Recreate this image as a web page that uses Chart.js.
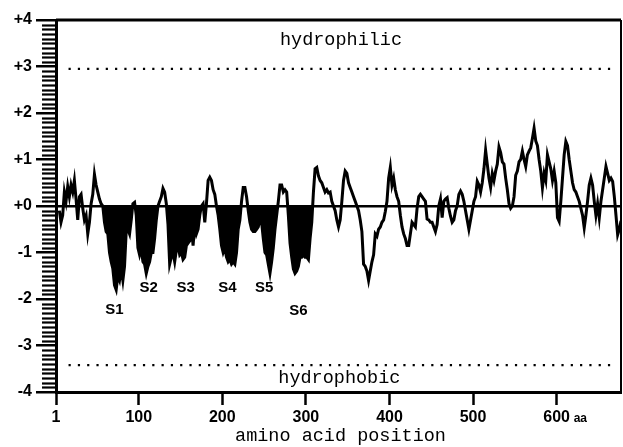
<!DOCTYPE html>
<html>
<head>
<meta charset="utf-8">
<script src="https://cdn.jsdelivr.net/npm/chart.js@4.4.0/dist/chart.umd.min.js"></script>
<style>
  html, body { margin: 0; padding: 0; background: #fff; }
</style>
</head>
<body>
<canvas id="hydro" width="623" height="447"></canvas>
<script>
// residue positions (aa) and hydropathy values
const positions = [
    5, 7, 9, 11, 13, 15, 17, 19, 21, 23, 25, 27, 29, 31, 33, 35, 37, 39, 41, 43,
    45, 47, 49, 51, 53, 55, 57, 59, 61, 63, 65, 67, 69, 71, 73, 75, 77, 79, 81, 83,
    85, 87, 89, 91, 93, 95, 97, 99, 101, 103, 105, 107, 109, 111, 113, 115, 117, 119, 121, 123,
    125, 127, 129, 131, 133, 135, 137, 139, 141, 143, 145, 147, 149, 151, 153, 155, 157, 159, 161, 163,
    165, 167, 169, 171, 173, 175, 177, 179, 181, 183, 185, 187, 189, 191, 193, 195, 197, 199, 201, 203,
    205, 207, 209, 211, 213, 215, 217, 219, 221, 223, 225, 227, 229, 231, 233, 235, 237, 239, 241, 243,
    245, 247, 249, 251, 253, 255, 257, 259, 261, 263, 265, 267, 269, 271, 273, 275, 277, 279, 281, 283,
    285, 287, 289, 291, 293, 295, 297, 299, 301, 303, 305, 307, 309, 311, 313, 315, 317, 319, 321, 323,
    325, 327, 329, 331, 333, 335, 337, 339, 341, 343, 345, 347, 349, 351, 353, 355, 357, 359, 361, 363,
    365, 367, 369, 371, 373, 375, 377, 379, 381, 383, 385, 387, 389, 391, 393, 395, 397, 399, 401, 403,
    405, 407, 409, 411, 413, 415, 417, 419, 421, 423, 425, 427, 429, 431, 433, 435, 437, 439, 441, 443,
    445, 447, 449, 451, 453, 455, 457, 459, 461, 463, 465, 467, 469, 471, 473, 475, 477, 479, 481, 483,
    485, 487, 489, 491, 493, 495, 497, 499, 501, 503, 505, 507, 509, 511, 513, 515, 517, 519, 521, 523,
    525, 527, 529, 531, 533, 535, 537, 539, 541, 543, 545, 547, 549, 551, 553, 555, 557, 559, 561, 563,
    565, 567, 569, 571, 573, 575, 577, 579, 581, 583, 585, 587, 589, 591, 593, 595, 597, 599, 601, 603,
    605, 607, 609, 611, 613, 615, 617, 619, 621, 623, 625, 627, 629, 631, 633, 635, 637, 639, 641, 643,
    645, 647, 649, 651, 653, 655, 657, 659, 661, 663, 665, 667, 669, 671, 673, 675, 677, 679
];

const hydropathy = [
    -0.1, -0.35, -0.2, 0.3, 0.1, 0.42, 0.2, 0.45, 0.3, 0.55, 0.15, -0.3, 0.2, 0.25, -0.05, -0.3, -0.2, -0.6, -0.35, 0.05,
    0.25, 0.68, 0.45, 0.3, 0.15, 0.05, 0.0, -0.35, -0.55, -0.6, -1.0, -1.2, -1.35, -1.7, -1.8, -1.5, -1.6, -1.35, -1.6, -1.3,
    -0.55, -0.5, -0.6, -0.3, 0.05, 0.08, -0.2, -0.9, -1.05, -0.9, -1.2, -1.25, -1.45, -1.3, -1.2, -1.0, -1.0, -0.7, -0.3, 0.0,
    0.1, 0.2, 0.38, 0.3, 0.05, -0.4, -1.25, -1.1, -1.0, -1.2, -0.95, -0.85, -1.05, -1.0, -1.15, -1.1, -0.85, -0.8, -0.75, -0.4,
    -0.85, -0.4, -0.6, -0.5, -0.2, 0.0, 0.05, -0.35, 0.05, 0.55, 0.62, 0.55, 0.35, 0.25, 0.0, -0.2, -0.5, -0.85, -1.0, -0.9,
    -1.1, -1.2, -1.15, -1.25, -1.2, -1.25, -1.0, -0.5, -0.3, 0.1, 0.4, 0.4, 0.2, -0.1, -0.35, -0.5, -0.55, -0.55, -0.5, -0.45,
    -0.3, -0.35, -0.7, -1.0, -1.05, -1.25, -1.45, -1.2, -0.9, -0.5, -0.2, 0.1, 0.45, 0.45, 0.3, 0.35, 0.3, -0.2, -0.8, -1.1,
    -1.35, -1.45, -1.4, -1.3, -1.1, -1.1, -1.05, -1.1, -1.1, -1.15, -0.7, -0.35, 0.3, 0.8, 0.83, 0.65, 0.55, 0.5, 0.4, 0.3,
    0.35, 0.28, 0.3, 0.1, 0.0, -0.1, -0.3, -0.45, -0.3, 0.1, 0.55, 0.75, 0.7, 0.5, 0.4, 0.3, 0.2, 0.1, 0.0, -0.1,
    -0.3, -0.55, -1.25, -1.3, -1.4, -1.6, -1.4, -1.2, -1.05, -0.6, -0.65, -0.5, -0.45, -0.35, -0.3, -0.12, 0.1, 0.6, 0.83, 0.45,
    0.6, 0.35, 0.2, 0.1, -0.2, -0.45, -0.6, -0.7, -0.85, -0.85, -0.6, -0.35, -0.4, -0.45, -0.05, 0.2, 0.25, 0.2, 0.15, 0.1,
    -0.28, -0.3, -0.35, -0.35, -0.45, -0.55, -0.4, 0.0, 0.15, -0.25, 0.1, 0.15, 0.18, -0.05, -0.22, -0.35, -0.3, -0.1, 0.0, 0.25,
    0.32, 0.25, 0.1, -0.1, -0.3, -0.5, -0.3, -0.1, 0.1, 0.2, 0.53, 0.45, 0.3, 0.5, 0.8, 1.2, 0.9, 0.6, 0.4, 0.7,
    0.55, 0.75, 0.9, 1.27, 1.15, 0.95, 0.9, 0.6, 0.35, 0.05, -0.05, 0.0, 0.2, 0.66, 0.75, 0.95, 1.0, 1.18, 1.0, 0.85,
    1.1, 1.18, 1.25, 1.45, 1.67, 1.4, 1.3, 1.0, 0.75, 0.39, 0.7, 0.55, 1.1, 0.95, 0.8, 0.55, 0.75, 0.5, -0.25, -0.33,
    0.1, 0.6, 1.1, 1.39, 1.3, 1.0, 0.75, 0.5, 0.35, 0.3, 0.2, 0.1, -0.05, -0.2, -0.47, -0.2, 0.1, 0.45, 0.6, 0.45,
    0.1, -0.2, 0.05, -0.25, 0.1, 0.35, 0.6, 0.85, 0.7, 0.55, 0.6, 0.53, 0.2, -0.2, -0.62, -0.5, -0.32, -0.35
];

// transmembrane stretch that is shaded black below zero
const tmStart = 57;
const tmEnd = 311;

// S1..S6 labels: position (aa) and level
const segmentLabels = ['S1', 'S2', 'S3', 'S4', 'S5', 'S6'];
const segmentPos = [71, 112, 156, 206, 250, 291];
const segmentLevel = [-2.24, -1.76, -1.76, -1.76, -1.76, -2.26];

const xTickValues = [1, 100, 200, 300, 400, 500, 600];
const dottedLevels = [2.95, -3.42];
const dottedRange = [16, 672];

const points = positions.map((x, i) => ({ x, y: hydropathy[i] }));
const tmPoints = points.filter(p => p.x >= tmStart && p.x <= tmEnd);

const MONO = "18.5px 'Liberation Mono', 'Courier New', monospace";

const frameAndText = {
    id: 'frameAndText',
    afterDraw(chart) {
        const { ctx, chartArea: a, scales } = chart;
        const xs = scales.x, ys = scales.y;
        ctx.save();
        ctx.strokeStyle = '#000';

        // top + right frame
        ctx.lineWidth = 3;
        ctx.beginPath();
        ctx.moveTo(a.left, a.top);
        ctx.lineTo(a.right, a.top);
        ctx.stroke();
        ctx.lineWidth = 2;
        ctx.beginPath();
        ctx.moveTo(a.right, a.top);
        ctx.lineTo(a.right, a.bottom);
        ctx.stroke();

        // minor ticks on the y axis, every 0.1
        ctx.lineWidth = 2.2;
        for (let k = -39; k <= 39; k++) {
            if (k % 10 === 0) continue;
            const y = Math.round(ys.getPixelForValue(k / 10)) + 0.5;
            ctx.beginPath();
            ctx.moveTo(a.left - 14, y);
            ctx.lineTo(a.left, y);
            ctx.stroke();
        }

        ctx.fillStyle = '#000';
        // segment labels
        ctx.font = "bold 15px 'Liberation Sans Narrow', 'Liberation Sans', Arial, sans-serif";
        ctx.textAlign = 'center';
        ctx.textBaseline = 'middle';
        segmentLabels.forEach((t, i) => {
            ctx.fillText(t, xs.getPixelForValue(segmentPos[i]), ys.getPixelForValue(segmentLevel[i]));
        });

        // region labels
        ctx.font = MONO;
        ctx.textBaseline = 'alphabetic';
        ctx.fillText('hydrophilic', xs.getPixelForValue(342), ys.getPixelForValue(3.46));
        ctx.fillText('hydrophobic', xs.getPixelForValue(340), ys.getPixelForValue(-3.8));

        // axis title
        ctx.fillText('amino acid position', (a.left + a.right) / 2 + 2, chart.height - 6);

        // unit after the last tick label
        ctx.font = "bold 12px 'Liberation Sans', Arial, sans-serif";
        ctx.textAlign = 'left';
        ctx.fillText('aa', xs.getPixelForValue(600) + 17, a.bottom + 30);
        ctx.restore();
    }
};

new Chart(document.getElementById('hydro'), {
    type: 'line',
    data: {
        datasets: [
            {
                data: points,
                borderColor: '#000',
                borderWidth: 3,
                pointRadius: 0,
                tension: 0,
                fill: false,
                order: 1
            },
            {
                data: tmPoints,
                borderWidth: 0,
                borderColor: 'rgba(0,0,0,0)',
                pointRadius: 0,
                tension: 0,
                fill: { target: { value: 0 }, above: 'rgba(0,0,0,0)', below: '#000' },
                order: 2
            },
            ...dottedLevels.map(v => ({
                data: dottedRange.map(x => ({ x, y: v })),
                borderColor: '#000',
                borderWidth: 2.2,
                borderDash: [2.2, 7.1],
                pointRadius: 0,
                fill: false,
                order: 3
            }))
        ]
    },
    options: {
        responsive: false,
        animation: false,
        layout: { padding: { top: 20, right: 2, left: 0, bottom: 0 } },
        plugins: {
            legend: { display: false },
            tooltip: { enabled: false }
        },
        scales: {
            x: {
                type: 'linear',
                min: 1,
                max: 677,
                afterBuildTicks: s => { s.ticks = xTickValues.map(v => ({ value: v })); },
                afterFit: s => { s.height = 55; },
                ticks: {
                    autoSkip: false,
                    maxRotation: 0,
                    padding: 3,
                    color: '#000',
                    font: { family: "'Liberation Sans', Arial, sans-serif", size: 16, weight: 'bold' },
                    callback: v => String(v)
                },
                grid: {
                    drawOnChartArea: false,
                    tickLength: 13,
                    tickWidth: 2.5,
                    tickColor: '#000'
                },
                border: { width: 3, color: '#000' }
            },
            y: {
                min: -4,
                max: 4,
                afterFit: s => { s.width = 56; },
                ticks: {
                    stepSize: 1,
                    padding: 4,
                    color: '#000',
                    font: { family: "'Liberation Sans', Arial, sans-serif", size: 16, weight: 'bold' },
                    callback: v => (v >= 0 ? '+' : '') + v
                },
                grid: {
                    color: c => (c.tick && c.tick.value === 0 ? '#000' : 'rgba(0,0,0,0)'),
                    lineWidth: 2.5,
                    tickLength: 20,
                    tickWidth: 2.5,
                    tickColor: '#000'
                },
                border: { width: 3, color: '#000' }
            }
        }
    },
    plugins: [frameAndText]
});
</script>
</body>
</html>
